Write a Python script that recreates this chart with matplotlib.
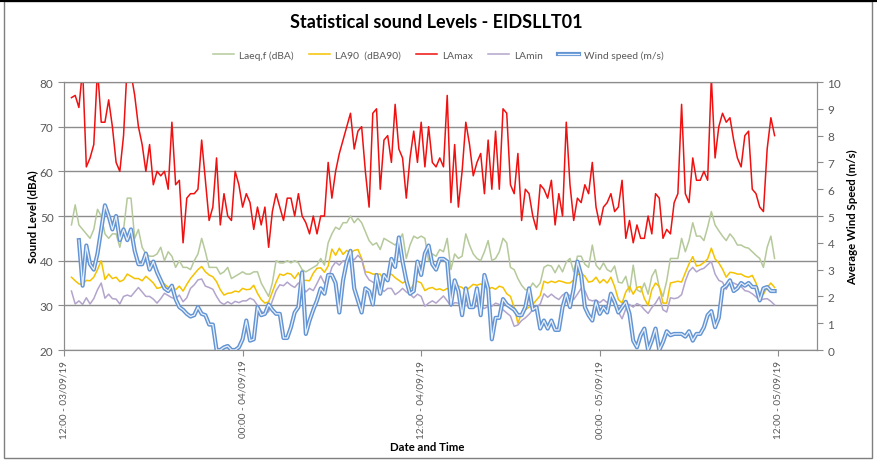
import numpy as np
import matplotlib
matplotlib.use("Agg")
import matplotlib.pyplot as plt
import matplotlib.patheffects as pe
from matplotlib.lines import Line2D
from matplotlib.patches import Rectangle

plt.rcParams['font.family'] = ['Lato', 'DejaVu Sans']

# 15 minute intervals, hours counted from 12:00 on 03/09/19
hours = np.arange(0.5, 48.0, 0.25)

tick_hours = [0, 12, 24, 36, 48]
tick_labels = ["12:00 - 03/09/19", "00:00 - 04/09/19", "12:00 - 04/09/19",
               "00:00 - 05/09/19", "12:00 - 05/09/19"]

laeq = [
    48, 52.5, 48, 47, 46, 45, 47, 51.5, 50, 46, 45, 46, 46, 43, 47, 54, 54, 45, 47, 43,
    41.5, 41, 41, 41.5, 43, 40, 42, 41, 38.5, 40, 38.5,
    38.5, 38, 40, 41.5, 45, 42, 38.5, 38.5, 38.5, 37, 37.5, 38.5, 36, 36.5, 37, 37.5,
    37, 37, 37.5, 37.5, 35, 33.5, 32, 35, 40, 39.5, 39.5, 40, 39.5, 40, 39.5, 38,
    37.5, 38, 38.5, 39, 40.5, 39, 44, 46, 47.5, 47, 48.5, 48.5, 50, 48.5, 49.5, 48.5,
    46.5, 44.5, 43.5, 44, 42.5, 45, 44.5, 44, 43.5, 44.5, 46, 40.5, 43.5, 45.5, 45, 45.5,
    45, 40, 41.5, 41, 42.5, 42, 45, 38, 41.5, 40.5, 41, 46, 43.5, 41.5, 40.5, 40,
    42, 44.5, 40, 40.5, 42, 45, 44, 38.5, 38, 36, 34.5, 33.5, 33.5, 35, 34, 35,
    38.5, 39, 38.8, 37.3, 39, 37.5, 39.7, 40.5, 37.5, 41, 41, 39.2, 38.5, 43.5, 39, 38,
    39.5, 38, 37.5, 38.8, 35.2, 35, 36.5, 33, 39, 33.5, 33, 35, 32.5, 36.5, 38, 34, 32,
    35.5, 40.5, 40.5, 40.5, 45, 42, 44.5, 48.5, 45.5, 45.5, 44.5, 47.5, 51, 48, 46.7,
    45.5, 44.5, 46, 45, 43.5, 43.5, 43, 42.8, 42, 41.2, 40.5, 38.5, 43, 45.5, 40.5,
]

la90 = [
    36.3, 35.5, 34.8, 34.7, 35.6, 35.5, 36.3, 38, 40, 35.8, 37, 36, 36.3, 35.3, 35.7, 37,
    36.5, 36, 36, 35.5, 36.5, 35.8, 35, 33.8, 34, 34.8, 34, 34.2, 33.5, 34.3, 33.2,
    34.7, 36, 37, 38, 38.7, 37.5, 36.8, 36.4, 35.3, 33.5, 32.3, 32.7, 32.8, 33.2, 33, 33.8,
    33.5, 33.6, 34.5, 32.7, 31.3, 30.5, 30.8, 33, 35.2, 37, 36.7, 37.2, 37, 36, 37.3, 35.5,
    35.6, 35.5, 37.2, 38.3, 38.4, 37.4, 38.8, 42.6, 41.2, 42.8, 41.4, 42.3, 41.7, 42.3,
    42.5, 40.5, 37.5, 37.4, 37, 37, 37, 35.5, 36.5, 37, 36.2, 35.6, 35, 35.5, 33.5, 34.7,
    35.4, 35,
    33.3, 33.8, 34, 33.5, 33.7, 33.3, 33.8, 33.2, 33.8, 34.3, 34, 33.2, 34, 34.7, 34.5,
    34.8, 34.2, 33.6, 34, 33.6, 34.3, 34, 32.6, 32, 29.5, 26, 28.3, 29, 29.6, 30.2, 31.2,
    32.2,
    35.4, 35, 35.4, 35.1, 35.5, 35.3, 35, 35, 35.7, 36.8, 37.3, 36.5, 35.2, 35.4, 36.3, 35,
    35.8, 35, 36.3, 34.2, 31.3, 30.5, 33, 34.2, 32.5, 34, 34.2, 31.5, 30, 33.5, 35, 34.2,
    30.5,
    30.5, 35, 35.2, 35.4, 35.2, 37.3, 39.3, 40.9, 38.8, 39, 39.6, 40.4, 42.8, 40.4, 39.5,
    38.1, 36.3, 37.4, 37.3, 37, 37, 36.5, 36.3, 36.7, 35, 32.2, 32.5, 34, 35, 34,
]

lamax = [
    76.5, 77, 74.3, 83, 61, 63, 66, 83, 71, 71, 76, 70, 62, 60, 68, 84, 82, 77, 70, 66,
    60, 66, 57, 60, 59, 60, 56, 71, 57, 58, 44,
    54, 55, 55, 56, 67, 58, 49, 52, 63, 48, 55, 50, 49, 60, 57, 52, 55, 53, 47, 52,
    48, 52, 43, 51, 55, 52, 49, 54, 54, 50, 55, 50,
    48.5, 46, 50, 46, 50, 50, 62, 54, 60, 64, 67, 70, 73, 65, 69, 70, 60, 52, 73, 74,
    56, 67, 68, 62, 75, 65, 63, 54, 63, 69, 62, 71,
    61, 70, 62, 61, 63, 61, 77, 53, 66, 52, 60, 71, 66, 59, 62, 64, 55, 67, 56, 69,
    56, 74, 73, 57, 55, 64, 49, 56, 55, 50, 47, 57,
    56, 54, 58, 48, 55, 50, 71, 57, 49, 54, 53, 57, 55, 62, 52, 48, 52, 53, 55, 51,
    52, 58, 45, 49, 44, 48, 45, 45, 50, 46, 55, 54, 45,
    47, 46, 53, 55, 75, 55, 53, 63, 58, 58, 60, 58, 81, 63, 70, 73, 71, 72, 67, 63,
    61, 68, 69, 56, 55, 52, 51, 65, 72, 68,
]

lamin = [
    33.2, 30.3, 31, 30.2, 31.7, 30.3, 31.5, 33.5, 35, 31.6, 32.5, 31.5, 31.4, 30.3, 32,
    32.3, 32, 33, 34, 33, 32, 32, 31.4, 30.5, 31.5, 32.7, 32.2, 31.7, 31.5, 32.3, 30.8,
    31.7, 33.8, 34.6, 35.7, 35.9, 34.3, 34, 33.6, 32, 30.7, 30.2, 30.8, 30.3, 30.9, 30.6,
    31, 31, 31.6, 31.2, 30, 28.7, 28, 28.6, 31, 33.3, 34.6, 34.4, 35.2, 34.5, 34, 35, 34.3,
    33, 33.8, 33.3, 34.9, 36.6, 34.9, 35.8, 38.5, 39.7, 39, 40, 40, 40.6, 40.2, 41.2,
    40.3, 37, 35.7, 35.2, 34.5, 34, 33.1, 33.8, 33.8, 32.4, 33, 33.8, 33, 32.5, 31.7,
    32.5, 32,
    29.8, 30.5, 31, 30.5, 31.3, 32.1, 31, 29.8, 30.6, 30.5, 29.8, 30, 29.9, 29.5, 29.8,
    29.7, 29.3, 29.8, 29.8, 30.5, 30.2, 29, 28.3, 27.6, 25.3, 25.6, 26.6, 27.2, 28, 29,
    29.6, 30.3,
    32.6, 31.8, 32.5, 31.8, 31.3, 32.3, 32.8, 32.1, 31.3, 32.5, 33.8, 33.3, 31.3, 31,
    31.2, 30.6, 31.3, 30.6, 31.5, 30.3, 28.5, 27, 29.2, 30.2, 29.6, 30.4, 30, 29, 28.2,
    29.5, 30.5, 31.9, 29,
    28.5, 31.7, 31.5, 31.7, 32.4, 35.4, 37.6, 38.5, 37.5, 38, 38.3, 39.1, 39.8, 37, 35.6,
    35.2, 33.6, 35.3, 35, 34.6, 34.2, 33.3, 33.1, 32.6, 31.9, 31.1, 31.4, 31.5, 30.9, 30.1,
]

# wind logger starts half an hour after the sound meter
wind = [
    np.nan, np.nan, 4.1, 2.4, 3.9, 3.2, 3.0, 3.6, 4.5, 5.4, 5.0, 4.5, 5.0, 4.1, 4.5, 4.1,
    4.5, 3.7, 3.2, 3.2, 3.6, 3.0, 3.3, 2.9, 2.6, 2.3, 2.2, 2.4, 1.9, 1.6, 1.5,
    1.35, 1.25, 1.3, 1.6, 1.35, 1.3, 0.95, 0.95, 0.0, 0.0, 0.1, 0.15, 0.0, 0.0, 0.1, 0.4,
    1.1, 0.35, 0.4, 1.6, 1.3, 1.35, 1.7, 1.5, 1.35, 1.35, 0.45, 0.45, 0.85, 1.4, 1.6, 2.9,
    0.6, 1.1, 1.5, 1.85, 2.3, 2.1, 2.8, 2.8, 2.5, 1.4, 2.6, 3.3, 3.7, 2.3, 1.85, 1.4,
    2.3, 2.2, 1.7, 2.8, 2.1, 2.8, 2.6, 3.4, 3.1, 4.2, 3.3, 2.6, 2.1, 2.2, 3.3, 2.8,
    3.6, 3.9, 3.2, 3.0, 3.4, 3.4, 3.3, 1.7, 2.6, 2.2, 1.3, 2.3, 1.6, 1.6, 2.3, 1.3,
    2.8, 2.3, 0.4, 1.2, 1.2, 1.9, 1.7, 1.6, 1.5, 1.3, 1.3, 1.6, 2.3, 1.5, 1.6, 0.8,
    1.1, 0.8, 1.1, 0.75, 0.75, 1.6, 2.1, 1.6, 2.3, 3.3, 2.8, 1.6, 1.3, 1.1, 1.8, 1.35,
    1.6, 1.4, 2.1, 1.8, 1.4, 1.6, 1.8, 1.35, 0.35, 0.1, 0.55, 0.8, 0.0, 0.35, 0.8, 0.0, 0.3,
    0.7, 0.55, 0.6, 0.6, 0.6, 0.5, 0.7, 0.35, 0.6, 0.6, 0.85, 1.3, 1.45, 0.85, 1.2,
    2.3, 2.4, 2.6, 2.2, 2.3, 2.5, 2.4, 2.5, 2.35, 2.35, 1.85, 2.3, 2.35, 2.2, 2.2,
]

GRID = '#8c8c8c'
TEXT = '#595959'

fig = plt.figure(figsize=(8.77, 4.64), dpi=100)
ax = fig.add_axes([0.073, 0.2435, 0.8586, 0.5776])
ax2 = ax.twinx()

ax.plot(hours, laeq, color='#b5c99b', lw=1.1, label='Laeq,f (dBA)')
ax.plot(hours, la90, color='#f5c200', lw=1.1, label='LA90  (dBA90)')
ax.plot(hours, lamax, color='#f01010', lw=1.1, label='LAmax')
ax.plot(hours, lamin, color='#b3a4cc', lw=1.1, label='LAmin')

# double line for the wind trace: blue outline, pale core
wind_line, = ax2.plot(hours, wind, color='#eaf1fa', lw=0.9, label='Wind speed (m/s)',
                      path_effects=[pe.Stroke(linewidth=3.0, foreground='#6394d4'), pe.Normal()])

ax.set_xlim(0, 50.6)
ax.set_ylim(20, 80)
ax2.set_ylim(0, 10)
ax.set_yticks(range(20, 81, 10))
ax2.set_yticks(range(0, 11))
ax.set_xticks(tick_hours)
ax.set_xticklabels(tick_labels, rotation=90)

ax.yaxis.grid(True, color=GRID, lw=1.0)
ax.set_axisbelow(True)
for a in (ax, ax2):
    for s in a.spines.values():
        s.set_color(GRID)
    a.tick_params(colors=GRID, labelcolor=TEXT, labelsize=8.5, length=4, width=0.8)
ax.tick_params(axis='x', labelsize=7.2, pad=3)

ax.set_ylabel('Sound Level (dBA)', fontsize=8.2, fontweight='bold', color='black', labelpad=1)
ax2.set_ylabel('Average Wind Speed (m/s)', fontsize=8.2, fontweight='bold', color='black', labelpad=4)
fig.text(0.487, 0.036, 'Date and Time', ha='center', va='center',
         fontsize=8.2, fontweight='bold', color='black')

fig.text(0.497, 0.952, 'Statistical sound Levels - EIDSLLT01', ha='center', va='center',
         fontsize=13, fontweight='bold', color='black')

handles, labels = ax.get_legend_handles_labels()
handles.append(wind_line)
labels.append(wind_line.get_label())
fig.legend(handles, labels, loc='center', bbox_to_anchor=(0.5, 0.879), ncol=5, frameon=False,
           fontsize=7.4, handlelength=2.0, handletextpad=0.5, columnspacing=1.5, labelcolor=TEXT)

# chart border
fig.add_artist(Rectangle((0.004, 0.011), 0.99, 0.984, transform=fig.transFigure,
                         fill=False, edgecolor='#7f7f7f', lw=1.0))
fig.add_artist(Line2D([0, 1], [0.997, 0.997], transform=fig.transFigure, color='black', lw=3))

fig.savefig('out.png', dpi=100)
print("Saved out.png")
